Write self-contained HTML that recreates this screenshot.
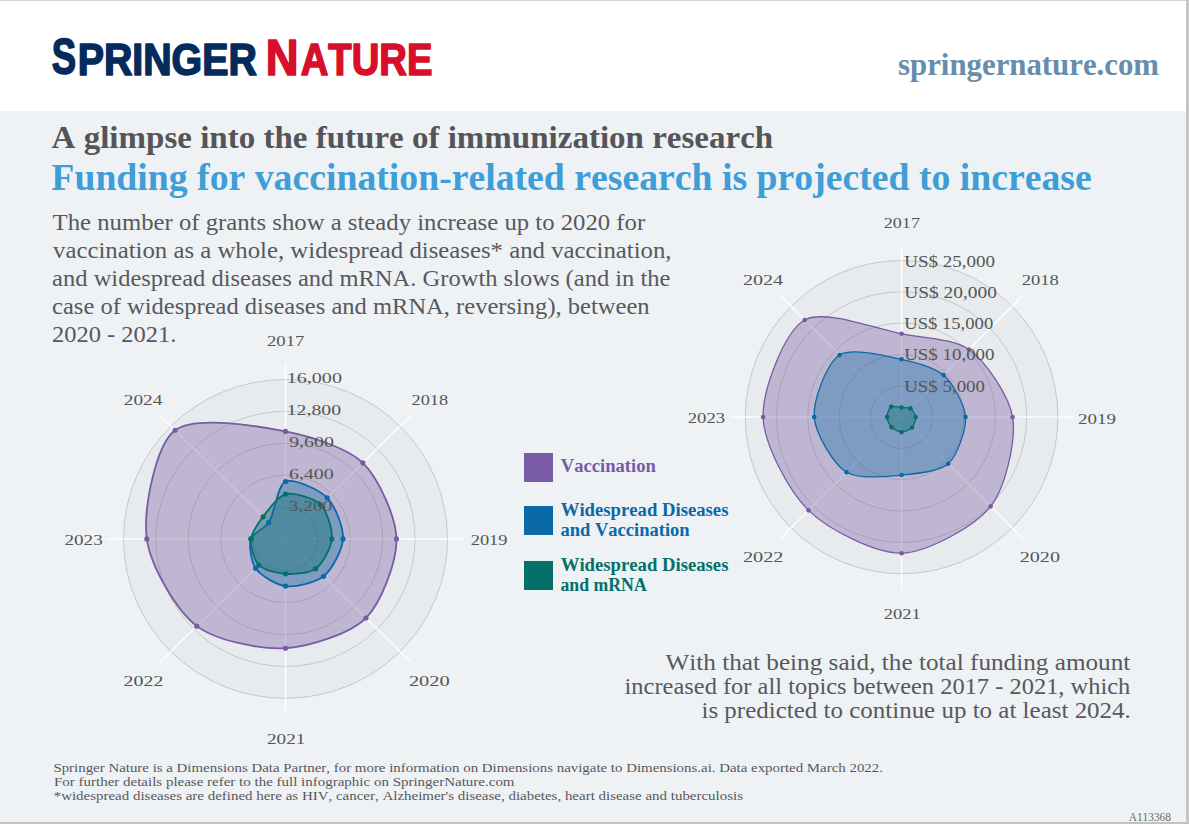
<!DOCTYPE html>
<html><head><meta charset="utf-8"><title>Springer Nature - immunization research</title>
<style>
html,body{margin:0;padding:0;background:#eef2f5;width:1189px;height:824px;overflow:hidden}
svg{display:block}
text{font-kerning:none;white-space:pre}
</style></head><body>
<svg width="1189" height="824" viewBox="0 0 1189 824">
<rect x="0" y="0" width="1189" height="824" fill="#eef2f5"/>
<rect x="0" y="0" width="1189" height="111" fill="#ffffff"/>
<ellipse cx="285.5" cy="538.9" rx="162.0" ry="159.4" fill="#e8ebed"/>
<ellipse cx="285.5" cy="538.9" rx="32.40" ry="31.88" fill="none" stroke="#c9c6c3" stroke-width="1"/>
<ellipse cx="285.5" cy="538.9" rx="64.80" ry="63.76" fill="none" stroke="#c9c6c3" stroke-width="1"/>
<ellipse cx="285.5" cy="538.9" rx="97.20" ry="95.64" fill="none" stroke="#c9c6c3" stroke-width="1"/>
<ellipse cx="285.5" cy="538.9" rx="129.60" ry="127.52" fill="none" stroke="#c9c6c3" stroke-width="1"/>
<ellipse cx="285.5" cy="538.9" rx="162.00" ry="159.40" fill="none" stroke="#c9c6c3" stroke-width="1"/>
<line x1="285.5" y1="538.9" x2="285.50" y2="363.88" stroke="#ffffff" stroke-width="1.3"/>
<line x1="285.5" y1="538.9" x2="411.28" y2="415.14" stroke="#ffffff" stroke-width="1.3"/>
<line x1="285.5" y1="538.9" x2="463.38" y2="538.90" stroke="#ffffff" stroke-width="1.3"/>
<line x1="285.5" y1="538.9" x2="411.28" y2="662.66" stroke="#ffffff" stroke-width="1.3"/>
<line x1="285.5" y1="538.9" x2="285.50" y2="713.92" stroke="#ffffff" stroke-width="1.3"/>
<line x1="285.5" y1="538.9" x2="159.72" y2="662.66" stroke="#ffffff" stroke-width="1.3"/>
<line x1="285.5" y1="538.9" x2="107.62" y2="538.90" stroke="#ffffff" stroke-width="1.3"/>
<line x1="285.5" y1="538.9" x2="159.72" y2="415.14" stroke="#ffffff" stroke-width="1.3"/>
<path d="M285.50,431.46C309.87,436.36 347.10,447.58 362.82,462.82C378.52,478.04 395.95,517.02 396.47,538.90C397.00,560.99 381.54,602.54 365.92,618.02C350.19,633.61 309.06,646.89 285.50,648.25C261.20,649.65 216.29,640.85 196.84,626.14C176.43,610.71 150.43,565.77 146.83,538.90C143.03,510.51 155.25,445.40 175.07,430.24C194.73,415.21 257.47,425.84 285.50,431.46Z" fill="#775ba4" fill-opacity="0.36" stroke="none"/>
<path d="M285.50,481.52C293.78,477.97 319.05,489.67 327.20,497.87C335.27,506.00 343.64,527.68 343.01,538.90C342.39,549.89 331.93,569.66 323.53,576.32C315.43,582.75 295.36,587.50 285.50,586.08C276.22,584.75 260.41,575.42 255.60,568.32C251.16,561.75 248.68,545.57 250.99,538.90C253.08,532.88 264.39,528.77 268.78,522.44C274.70,513.89 277.27,485.04 285.50,481.52Z" fill="#0a69a7" fill-opacity="0.36" stroke="none"/>
<path d="M285.50,494.03C293.80,491.91 313.87,498.14 320.44,504.52C326.98,510.88 332.64,529.68 331.83,538.90C331.05,547.81 322.57,563.76 315.74,568.66C309.23,573.32 293.72,574.42 285.50,573.81C277.65,573.22 263.81,570.05 258.92,565.05C254.10,560.10 250.28,545.86 250.99,538.90C251.68,532.22 258.59,522.82 263.05,516.81C268.08,510.03 277.73,496.02 285.50,494.03Z" fill="#056f69" fill-opacity="0.38" stroke="none"/>
<path d="M285.50,431.46C309.87,436.36 347.10,447.58 362.82,462.82C378.52,478.04 395.95,517.02 396.47,538.90C397.00,560.99 381.54,602.54 365.92,618.02C350.19,633.61 309.06,646.89 285.50,648.25C261.20,649.65 216.29,640.85 196.84,626.14C176.43,610.71 150.43,565.77 146.83,538.90C143.03,510.51 155.25,445.40 175.07,430.24C194.73,415.21 257.47,425.84 285.50,431.46Z" fill="none" stroke="#775ba4" stroke-width="1.8"/>
<circle cx="285.50" cy="431.46" r="2.6" fill="#775ba4"/>
<circle cx="362.82" cy="462.82" r="2.6" fill="#775ba4"/>
<circle cx="396.47" cy="538.90" r="2.6" fill="#775ba4"/>
<circle cx="365.92" cy="618.02" r="2.6" fill="#775ba4"/>
<circle cx="285.50" cy="648.25" r="2.6" fill="#775ba4"/>
<circle cx="196.84" cy="626.14" r="2.6" fill="#775ba4"/>
<circle cx="146.83" cy="538.90" r="2.6" fill="#775ba4"/>
<circle cx="175.07" cy="430.24" r="2.6" fill="#775ba4"/>
<path d="M285.50,481.52C293.78,477.97 319.05,489.67 327.20,497.87C335.27,506.00 343.64,527.68 343.01,538.90C342.39,549.89 331.93,569.66 323.53,576.32C315.43,582.75 295.36,587.50 285.50,586.08C276.22,584.75 260.41,575.42 255.60,568.32C251.16,561.75 248.68,545.57 250.99,538.90C253.08,532.88 264.39,528.77 268.78,522.44C274.70,513.89 277.27,485.04 285.50,481.52Z" fill="none" stroke="#0a69a7" stroke-width="1.8"/>
<circle cx="285.50" cy="481.52" r="2.6" fill="#0a69a7"/>
<circle cx="327.20" cy="497.87" r="2.6" fill="#0a69a7"/>
<circle cx="343.01" cy="538.90" r="2.6" fill="#0a69a7"/>
<circle cx="323.53" cy="576.32" r="2.6" fill="#0a69a7"/>
<circle cx="285.50" cy="586.08" r="2.6" fill="#0a69a7"/>
<circle cx="255.60" cy="568.32" r="2.6" fill="#0a69a7"/>
<circle cx="250.99" cy="538.90" r="2.6" fill="#0a69a7"/>
<circle cx="268.78" cy="522.44" r="2.6" fill="#0a69a7"/>
<path d="M285.50,494.03C293.80,491.91 313.87,498.14 320.44,504.52C326.98,510.88 332.64,529.68 331.83,538.90C331.05,547.81 322.57,563.76 315.74,568.66C309.23,573.32 293.72,574.42 285.50,573.81C277.65,573.22 263.81,570.05 258.92,565.05C254.10,560.10 250.28,545.86 250.99,538.90C251.68,532.22 258.59,522.82 263.05,516.81C268.08,510.03 277.73,496.02 285.50,494.03Z" fill="none" stroke="#056f69" stroke-width="1.8"/>
<circle cx="285.50" cy="494.03" r="2.6" fill="#056f69"/>
<circle cx="320.44" cy="504.52" r="2.6" fill="#056f69"/>
<circle cx="331.83" cy="538.90" r="2.6" fill="#056f69"/>
<circle cx="315.74" cy="568.66" r="2.6" fill="#056f69"/>
<circle cx="285.50" cy="573.81" r="2.6" fill="#056f69"/>
<circle cx="258.92" cy="565.05" r="2.6" fill="#056f69"/>
<circle cx="250.99" cy="538.90" r="2.6" fill="#056f69"/>
<circle cx="263.05" cy="516.81" r="2.6" fill="#056f69"/>
<text x="288.88" y="510.52" font-family='"Liberation Serif", serif' font-weight="normal" font-size="15" fill="#555555" textLength="43.36" lengthAdjust="spacingAndGlyphs">3,200</text>
<text x="288.94" y="478.64" font-family='"Liberation Serif", serif' font-weight="normal" font-size="15" fill="#555555" textLength="44.81" lengthAdjust="spacingAndGlyphs">6,400</text>
<text x="289.16" y="446.76" font-family='"Liberation Serif", serif' font-weight="normal" font-size="15" fill="#555555" textLength="44.80" lengthAdjust="spacingAndGlyphs">9,600</text>
<text x="286.76" y="414.88" font-family='"Liberation Serif", serif' font-weight="normal" font-size="15" fill="#555555" textLength="54.29" lengthAdjust="spacingAndGlyphs">12,800</text>
<text x="286.73" y="383.00" font-family='"Liberation Serif", serif' font-weight="normal" font-size="15" fill="#555555" textLength="55.23" lengthAdjust="spacingAndGlyphs">16,000</text>
<text x="266.98" y="345.90" font-family='"Liberation Serif", serif' font-weight="normal" font-size="15" fill="#555555" textLength="37.46" lengthAdjust="spacingAndGlyphs">2017</text>
<text x="411.50" y="405.00" font-family='"Liberation Serif", serif' font-weight="normal" font-size="15" fill="#555555" textLength="36.60" lengthAdjust="spacingAndGlyphs">2018</text>
<text x="470.69" y="545.00" font-family='"Liberation Serif", serif' font-weight="normal" font-size="15" fill="#555555" textLength="36.87" lengthAdjust="spacingAndGlyphs">2019</text>
<text x="408.90" y="685.90" font-family='"Liberation Serif", serif' font-weight="normal" font-size="15" fill="#555555" textLength="40.88" lengthAdjust="spacingAndGlyphs">2020</text>
<text x="267.06" y="744.10" font-family='"Liberation Serif", serif' font-weight="normal" font-size="15" fill="#555555" textLength="38.29" lengthAdjust="spacingAndGlyphs">2021</text>
<text x="123.63" y="685.90" font-family='"Liberation Serif", serif' font-weight="normal" font-size="15" fill="#555555" textLength="39.67" lengthAdjust="spacingAndGlyphs">2022</text>
<text x="64.46" y="544.70" font-family='"Liberation Serif", serif' font-weight="normal" font-size="15" fill="#555555" textLength="38.29" lengthAdjust="spacingAndGlyphs">2023</text>
<text x="123.75" y="405.10" font-family='"Liberation Serif", serif' font-weight="normal" font-size="15" fill="#555555" textLength="38.55" lengthAdjust="spacingAndGlyphs">2024</text>
<ellipse cx="901.6" cy="417.1" rx="156.3" ry="156.6" fill="#e8ebed"/>
<ellipse cx="901.6" cy="417.1" rx="31.26" ry="31.32" fill="none" stroke="#c9c6c3" stroke-width="1"/>
<ellipse cx="901.6" cy="417.1" rx="62.52" ry="62.64" fill="none" stroke="#c9c6c3" stroke-width="1"/>
<ellipse cx="901.6" cy="417.1" rx="93.78" ry="93.96" fill="none" stroke="#c9c6c3" stroke-width="1"/>
<ellipse cx="901.6" cy="417.1" rx="125.04" ry="125.28" fill="none" stroke="#c9c6c3" stroke-width="1"/>
<ellipse cx="901.6" cy="417.1" rx="156.30" ry="156.60" fill="none" stroke="#c9c6c3" stroke-width="1"/>
<line x1="901.6" y1="417.1" x2="901.60" y2="245.15" stroke="#ffffff" stroke-width="1.3"/>
<line x1="901.6" y1="417.1" x2="1022.95" y2="295.52" stroke="#ffffff" stroke-width="1.3"/>
<line x1="901.6" y1="417.1" x2="1073.22" y2="417.10" stroke="#ffffff" stroke-width="1.3"/>
<line x1="901.6" y1="417.1" x2="1022.95" y2="538.68" stroke="#ffffff" stroke-width="1.3"/>
<line x1="901.6" y1="417.1" x2="901.60" y2="589.05" stroke="#ffffff" stroke-width="1.3"/>
<line x1="901.6" y1="417.1" x2="780.25" y2="538.68" stroke="#ffffff" stroke-width="1.3"/>
<line x1="901.6" y1="417.1" x2="729.98" y2="417.10" stroke="#ffffff" stroke-width="1.3"/>
<line x1="901.6" y1="417.1" x2="780.25" y2="295.52" stroke="#ffffff" stroke-width="1.3"/>
<path d="M901.60,333.79C922.53,337.72 953.60,338.69 969.02,349.55C985.63,361.26 1009.00,395.78 1012.57,417.10C1016.39,439.90 1005.64,487.22 990.68,506.35C975.03,526.37 927.28,552.51 901.60,553.19C875.69,553.87 828.14,529.51 808.54,510.34C788.82,491.04 763.78,443.94 763.12,417.10C762.45,390.01 784.36,331.41 804.67,319.99C824.23,308.99 876.72,329.12 901.60,333.79Z" fill="#775ba4" fill-opacity="0.36" stroke="none"/>
<path d="M901.60,359.31C914.88,362.21 934.53,367.11 943.54,375.08C952.81,383.28 964.75,404.71 965.53,417.10C966.32,429.80 957.35,455.53 948.13,463.72C939.08,471.75 915.44,473.74 901.60,475.04C886.76,476.44 858.74,479.64 846.56,472.24C833.44,464.28 815.40,433.49 814.23,417.10C813.03,400.31 826.77,362.96 839.60,354.98C851.94,347.30 885.96,355.91 901.60,359.31Z" fill="#0a69a7" fill-opacity="0.36" stroke="none"/>
<path d="M901.60,407.55C904.18,407.78 908.37,407.13 910.33,408.35C912.45,409.67 915.38,414.44 915.67,417.10C915.96,419.87 914.01,425.46 912.04,427.56C910.05,429.69 904.52,432.04 901.60,431.98C898.71,431.91 893.60,429.29 891.54,427.18C889.49,425.07 887.13,420.00 887.06,417.10C887.00,414.18 889.03,407.96 891.16,406.64C893.21,405.36 898.77,407.29 901.60,407.55Z" fill="#056f69" fill-opacity="0.38" stroke="none"/>
<path d="M901.60,333.79C922.53,337.72 953.60,338.69 969.02,349.55C985.63,361.26 1009.00,395.78 1012.57,417.10C1016.39,439.90 1005.64,487.22 990.68,506.35C975.03,526.37 927.28,552.51 901.60,553.19C875.69,553.87 828.14,529.51 808.54,510.34C788.82,491.04 763.78,443.94 763.12,417.10C762.45,390.01 784.36,331.41 804.67,319.99C824.23,308.99 876.72,329.12 901.60,333.79Z" fill="none" stroke="#775ba4" stroke-width="1.3"/>
<circle cx="901.60" cy="333.79" r="2.3" fill="#775ba4"/>
<circle cx="969.02" cy="349.55" r="2.3" fill="#775ba4"/>
<circle cx="1012.57" cy="417.10" r="2.3" fill="#775ba4"/>
<circle cx="990.68" cy="506.35" r="2.3" fill="#775ba4"/>
<circle cx="901.60" cy="553.19" r="2.3" fill="#775ba4"/>
<circle cx="808.54" cy="510.34" r="2.3" fill="#775ba4"/>
<circle cx="763.12" cy="417.10" r="2.3" fill="#775ba4"/>
<circle cx="804.67" cy="319.99" r="2.3" fill="#775ba4"/>
<path d="M901.60,359.31C914.88,362.21 934.53,367.11 943.54,375.08C952.81,383.28 964.75,404.71 965.53,417.10C966.32,429.80 957.35,455.53 948.13,463.72C939.08,471.75 915.44,473.74 901.60,475.04C886.76,476.44 858.74,479.64 846.56,472.24C833.44,464.28 815.40,433.49 814.23,417.10C813.03,400.31 826.77,362.96 839.60,354.98C851.94,347.30 885.96,355.91 901.60,359.31Z" fill="none" stroke="#0a69a7" stroke-width="1.3"/>
<circle cx="901.60" cy="359.31" r="2.3" fill="#0a69a7"/>
<circle cx="943.54" cy="375.08" r="2.3" fill="#0a69a7"/>
<circle cx="965.53" cy="417.10" r="2.3" fill="#0a69a7"/>
<circle cx="948.13" cy="463.72" r="2.3" fill="#0a69a7"/>
<circle cx="901.60" cy="475.04" r="2.3" fill="#0a69a7"/>
<circle cx="846.56" cy="472.24" r="2.3" fill="#0a69a7"/>
<circle cx="814.23" cy="417.10" r="2.3" fill="#0a69a7"/>
<circle cx="839.60" cy="354.98" r="2.3" fill="#0a69a7"/>
<path d="M901.60,407.55C904.18,407.78 908.37,407.13 910.33,408.35C912.45,409.67 915.38,414.44 915.67,417.10C915.96,419.87 914.01,425.46 912.04,427.56C910.05,429.69 904.52,432.04 901.60,431.98C898.71,431.91 893.60,429.29 891.54,427.18C889.49,425.07 887.13,420.00 887.06,417.10C887.00,414.18 889.03,407.96 891.16,406.64C893.21,405.36 898.77,407.29 901.60,407.55Z" fill="none" stroke="#056f69" stroke-width="1.3"/>
<circle cx="901.60" cy="407.55" r="2.3" fill="#056f69"/>
<circle cx="910.33" cy="408.35" r="2.3" fill="#056f69"/>
<circle cx="915.67" cy="417.10" r="2.3" fill="#056f69"/>
<circle cx="912.04" cy="427.56" r="2.3" fill="#056f69"/>
<circle cx="901.60" cy="431.98" r="2.3" fill="#056f69"/>
<circle cx="891.54" cy="427.18" r="2.3" fill="#056f69"/>
<circle cx="887.06" cy="417.10" r="2.3" fill="#056f69"/>
<circle cx="891.16" cy="406.64" r="2.3" fill="#056f69"/>
<text x="904.20" y="391.78" font-family='"Liberation Serif", serif' font-weight="normal" font-size="17" fill="#555555" textLength="80.82" lengthAdjust="spacingAndGlyphs">US$ 5,000</text>
<text x="904.20" y="360.46" font-family='"Liberation Serif", serif' font-weight="normal" font-size="17" fill="#555555" textLength="90.32" lengthAdjust="spacingAndGlyphs">US$ 10,000</text>
<text x="904.21" y="329.14" font-family='"Liberation Serif", serif' font-weight="normal" font-size="17" fill="#555555" textLength="89.00" lengthAdjust="spacingAndGlyphs">US$ 15,000</text>
<text x="904.19" y="297.82" font-family='"Liberation Serif", serif' font-weight="normal" font-size="17" fill="#555555" textLength="92.65" lengthAdjust="spacingAndGlyphs">US$ 20,000</text>
<text x="904.20" y="266.50" font-family='"Liberation Serif", serif' font-weight="normal" font-size="17" fill="#555555" textLength="90.82" lengthAdjust="spacingAndGlyphs">US$ 25,000</text>
<text x="883.81" y="227.95" font-family='"Liberation Serif", serif' font-weight="normal" font-size="15" fill="#555555" textLength="36.11" lengthAdjust="spacingAndGlyphs">2017</text>
<text x="1021.68" y="284.90" font-family='"Liberation Serif", serif' font-weight="normal" font-size="15" fill="#555555" textLength="37.23" lengthAdjust="spacingAndGlyphs">2018</text>
<text x="1077.96" y="423.80" font-family='"Liberation Serif", serif' font-weight="normal" font-size="15" fill="#555555" textLength="38.01" lengthAdjust="spacingAndGlyphs">2019</text>
<text x="1019.72" y="561.95" font-family='"Liberation Serif", serif' font-weight="normal" font-size="15" fill="#555555" textLength="40.25" lengthAdjust="spacingAndGlyphs">2020</text>
<text x="883.79" y="619.10" font-family='"Liberation Serif", serif' font-weight="normal" font-size="15" fill="#555555" textLength="37.03" lengthAdjust="spacingAndGlyphs">2021</text>
<text x="742.91" y="561.95" font-family='"Liberation Serif", serif' font-weight="normal" font-size="15" fill="#555555" textLength="40.61" lengthAdjust="spacingAndGlyphs">2022</text>
<text x="687.78" y="423.00" font-family='"Liberation Serif", serif' font-weight="normal" font-size="15" fill="#555555" textLength="37.35" lengthAdjust="spacingAndGlyphs">2023</text>
<text x="742.92" y="284.90" font-family='"Liberation Serif", serif' font-weight="normal" font-size="15" fill="#555555" textLength="40.09" lengthAdjust="spacingAndGlyphs">2024</text>
<rect x="524" y="453" width="29" height="29" fill="#775ba4"/>
<rect x="524" y="506" width="29" height="29" fill="#0a69a7"/>
<rect x="524" y="561" width="29" height="29" fill="#056f69"/>
<text x="51.75" y="74.30" font-family='"Liberation Sans", sans-serif' font-weight="bold" font-size="49.6" fill="#032b5c" textLength="24.38" lengthAdjust="spacingAndGlyphs" stroke="#032b5c" stroke-width="1.6" stroke-linejoin="round">S</text>
<text x="77.67" y="74.50" font-family='"Liberation Sans", sans-serif' font-weight="bold" font-size="43.6" fill="#032b5c" textLength="179.14" lengthAdjust="spacingAndGlyphs" stroke="#032b5c" stroke-width="1.6" stroke-linejoin="round">PRINGER</text>
<text x="265.86" y="74.50" font-family='"Liberation Sans", sans-serif' font-weight="bold" font-size="49.7" fill="#d70f2b" textLength="32.80" lengthAdjust="spacingAndGlyphs" stroke="#d70f2b" stroke-width="1.6" stroke-linejoin="round">N</text>
<text x="300.75" y="74.50" font-family='"Liberation Sans", sans-serif' font-weight="bold" font-size="43.6" fill="#d70f2b" textLength="131.75" lengthAdjust="spacingAndGlyphs" stroke="#d70f2b" stroke-width="1.6" stroke-linejoin="round">ATURE</text>
<text x="898.07" y="74.90" font-family='"Liberation Serif", serif' font-weight="bold" font-size="31" fill="#668dab" textLength="260.96" lengthAdjust="spacingAndGlyphs">springernature.com</text>
<text x="51.58" y="147.70" font-family='"Liberation Serif", serif' font-weight="bold" font-size="32.2" fill="#555558" textLength="721.62" lengthAdjust="spacingAndGlyphs">A glimpse into the future of immunization research</text>
<text x="51.36" y="189.80" font-family='"Liberation Serif", serif' font-weight="bold" font-size="38.6" fill="#3f9dd8" textLength="1040.42" lengthAdjust="spacingAndGlyphs">Funding for vaccination-related research is projected to increase</text>
<text x="52.55" y="230.20" font-family='"Liberation Serif", serif' font-weight="normal" font-size="23.5" fill="#58585c" textLength="592.66" lengthAdjust="spacingAndGlyphs">The number of grants show a steady increase up to 2020 for</text>
<text x="53.00" y="258.10" font-family='"Liberation Serif", serif' font-weight="normal" font-size="23.5" fill="#58585c" textLength="618.56" lengthAdjust="spacingAndGlyphs">vaccination as a whole, widespread diseases* and vaccination,</text>
<text x="52.14" y="286.00" font-family='"Liberation Serif", serif' font-weight="normal" font-size="23.5" fill="#58585c" textLength="618.31" lengthAdjust="spacingAndGlyphs">and widespread diseases and mRNA. Growth slows (and in the</text>
<text x="52.07" y="313.90" font-family='"Liberation Serif", serif' font-weight="normal" font-size="23.5" fill="#58585c" textLength="597.51" lengthAdjust="spacingAndGlyphs">case of widespread diseases and mRNA, reversing), between</text>
<text x="51.92" y="341.80" font-family='"Liberation Serif", serif' font-weight="normal" font-size="23.5" fill="#58585c" textLength="124.59" lengthAdjust="spacingAndGlyphs">2020 - 2021.</text>
<text x="665.48" y="669.60" font-family='"Liberation Serif", serif' font-weight="normal" font-size="23.5" fill="#58585c" textLength="464.87" lengthAdjust="spacingAndGlyphs">With that being said, the total funding amount</text>
<text x="624.59" y="693.80" font-family='"Liberation Serif", serif' font-weight="normal" font-size="23.5" fill="#58585c" textLength="505.74" lengthAdjust="spacingAndGlyphs">increased for all topics between 2017 - 2021, which</text>
<text x="701.48" y="717.80" font-family='"Liberation Serif", serif' font-weight="normal" font-size="23.5" fill="#58585c" textLength="429.37" lengthAdjust="spacingAndGlyphs">is predicted to continue up to at least 2024.</text>
<text x="53.40" y="771.80" font-family='"Liberation Serif", serif' font-weight="normal" font-size="12.8" fill="#58585c" textLength="829.58" lengthAdjust="spacingAndGlyphs">Springer Nature is a Dimensions Data Partner, for more information on Dimensions navigate to Dimensions.ai. Data exported March 2022.</text>
<text x="53.97" y="785.80" font-family='"Liberation Serif", serif' font-weight="normal" font-size="12.8" fill="#58585c" textLength="460.57" lengthAdjust="spacingAndGlyphs">For further details please refer to the full infographic on SpringerNature.com</text>
<text x="53.67" y="800.10" font-family='"Liberation Serif", serif' font-weight="normal" font-size="12.8" fill="#58585c" textLength="689.37" lengthAdjust="spacingAndGlyphs">*widespread diseases are defined here as HIV, cancer, Alzheimer's disease, diabetes, heart disease and tuberculosis</text>
<text x="1128.69" y="820.70" font-family='"Liberation Serif", serif' font-weight="normal" font-size="12.5" fill="#6a6a6a" textLength="42.24" lengthAdjust="spacingAndGlyphs">A113368</text>
<text x="560.79" y="471.80" font-family='"Liberation Serif", serif' font-weight="bold" font-size="18.9" fill="#775ba4" textLength="95.09" lengthAdjust="spacingAndGlyphs">Vaccination</text>
<text x="560.74" y="515.80" font-family='"Liberation Serif", serif' font-weight="bold" font-size="18.9" fill="#0a69a7" textLength="167.72" lengthAdjust="spacingAndGlyphs">Widespread Diseases</text>
<text x="560.40" y="535.70" font-family='"Liberation Serif", serif' font-weight="bold" font-size="18.9" fill="#0a69a7" textLength="129.28" lengthAdjust="spacingAndGlyphs">and Vaccination</text>
<text x="560.74" y="570.80" font-family='"Liberation Serif", serif' font-weight="bold" font-size="18.9" fill="#056f69" textLength="167.72" lengthAdjust="spacingAndGlyphs">Widespread Diseases</text>
<text x="560.43" y="590.70" font-family='"Liberation Serif", serif' font-weight="bold" font-size="18.9" fill="#056f69" textLength="86.30" lengthAdjust="spacingAndGlyphs">and mRNA</text>
<rect x="0" y="0" width="1189" height="1" fill="#d2d2d2"/>
<rect x="1186" y="0" width="3" height="824" fill="#c6c6c6"/>
<rect x="0" y="822" width="1189" height="2" fill="#c2c2c2"/>
</svg>
</body></html>
